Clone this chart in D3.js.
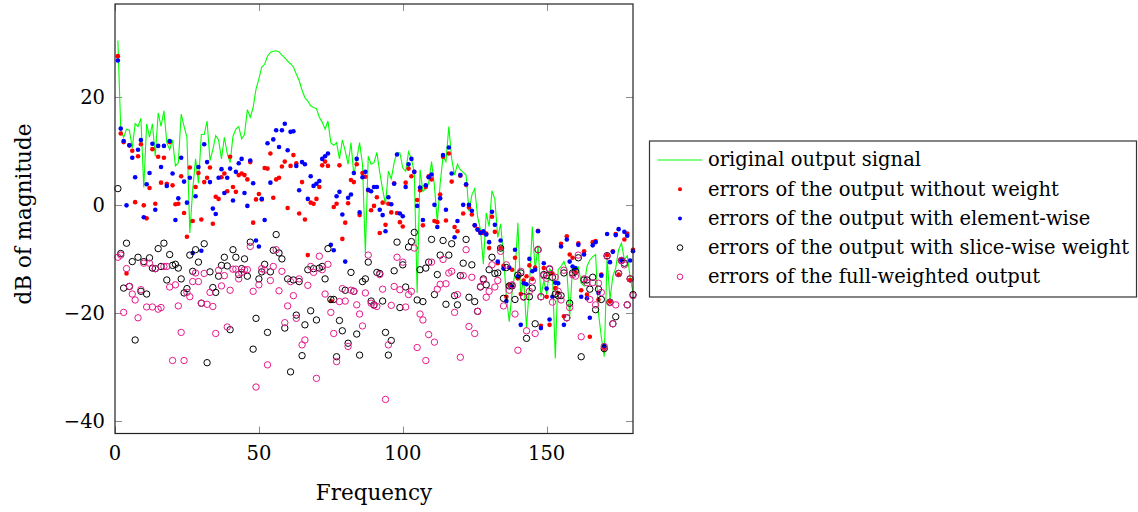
<!DOCTYPE html>
<html>
<head>
<meta charset="utf-8">
<script src="https://cdn.jsdelivr.net/npm/d3@7"></script>
<style>
  body { margin: 0; background: #fff; }
  svg { display: block; }
  text { font-family: "DejaVu Serif", serif; fill: #000; }
</style>
</head>
<body>
<div id="plot"></div>
<script>
// frequency bins 1..180
var freq = d3.range(1, 181);

var original = [
  30.4, 14.0, 12.5, 14.0, 13.8, 10.5, 15.0, 14.5, 16.0, 3.2,
  15.0, 12.5, 15.0, 9.0, 17.0, 14.5, 17.4, 11.5, 10.2, 12.0,
  7.2, 7.8, 16.8, 14.5, 12.5, -5.2, 2.8, 8.5, 4.0, 13.0,
  13.0, 15.5, 8.2, 10.2, 12.8, 12.0, 8.5, 12.5, 9.5, 7.8,
  12.7, 14.0, 14.5, 12.2, 13.0, 17.6, 16.2, 18.0, 21.4, 23.3,
  25.5, 26.0, 27.5, 28.2, 28.4, 28.5, 28.3, 27.7, 27.2, 26.6,
  26.1, 25.5, 24.2, 23.0, 21.2, 19.8, 19.2, 18.3, 18.0, 17.8,
  16.2, 15.3, 14.0, 15.5, 11.5, 11.0, 11.5, 8.5, 12.0, 10.0,
  7.5, 11.5, 5.5, 8.5, 11.5, 7.5, -8.9, 9.0, 7.5, 7.8,
  9.7, 6.0, 2.8, 0.1, 6.2, 4.8, 7.8, 9.7, 9.6, 6.8,
  6.2, 9.8, 8.5, 6.0, -16.3, 6.5, 2.5, 3.0, 4.0, 8.0,
  3.5, -3.3, 4.0, 9.0, 8.0, 14.5, 8.5, 5.5, 7.5, 6.5,
  6.0, 5.5, -1.2, 1.8, 3.0, -2.2, -4.6, -11.0, -1.5, -4.0,
  2.6, 1.0, -6.0, -3.5, -9.5, -17.0, -21.6, -16.0, -12.5, -3.3,
  -17.0, -13.5, -22.8, -15.0, -4.0, -12.0, -7.5, -17.0, -14.0, -16.5,
  -11.8, -12.5, -28.4, -12.0, -11.4, -10.5, -12.0, -20.7, -11.4, -13.2,
  -11.4, -14.5, -15.0, -11.4, -10.2, -9.6, -9.2, -20.0, -24.5, -28.1,
  -9.8, -17.5, -13.2, -11.7, -8.3, -7.1, -10.2, -9.4, -13.3, -16.3
];

var noWeight = [
  27.5, 13.2, 11.6, -12.7, 11.0, 10.0, 0.5, 9.0, 11.2, -0.1,
  -2.5, 3.1, 10.3, 0.2, 8.9, 4.1, 8.7, 3.9, 11.6, 3.6,
  0.1, 0.2, 5.3, -1.5, -5.9, 6.9, -3.0, 3.3, 5.9, -2.7,
  4.2, 5.0, 6.9, -3.5, 1.5, 1.1, 5.1, 5.8, 2.5, 8.9,
  3.3, 2.4, 5.5, 5.8, 5.5, 4.7, 7.9, -3.3, 1.0, 2.0,
  1.0, 6.8, 6.7, 9.5, 1.3, 4.7, 5.0, 7.1, 8.0, -0.6,
  7.2, 9.2, 7.7, -1.6, 4.2, -2.7, -9.3, 0.4, 0.2, 1.1,
  3.3, 7.3, 8.0, 7.2, -17.8, -0.4, 0.2, 7.3, -6.3, -3.3,
  0.3, 4.6, 4.2, 7.5, -1.9, 5.9, 5.2, 2.7, -1.0, -0.2,
  1.4, -5.2, 0.4, -3.7, 0.2, -1.4, 4.0, -1.5, -3.2, -4.0,
  4.1, 6.7, 5.3, 6.1, 0.9, 2.7, -3.8, 3.3, 5.3, 4.7,
  -3.0, -3.2, 1.9, 8.9, -2.9, 9.5, 4.3, -4.1, -4.9, 5.4,
  -1.6, 3.7, -0.5, -1.8, -3.8, -4.5, -5.1, -5.2, -5.3, -8.0,
  -2.2, -5.0, -10.8, -8.0, -11.3, -17.0, -14.8, -12.0, -9.8, -13.6,
  -16.5, -14.0, -13.2, -11.2, -13.7, -11.6, -4.8, -22.4, -11.7, -17.0,
  -22.2, -12.7, -15.4, -16.3, -7.2, -20.6, -5.8, -9.2, -9.8, -12.5,
  -7.1, -15.8, -8.6, -16.6, -24.4, -6.9, -6.7, -17.5, -12.9, -26.6,
  -9.3, -17.9, -8.6, -5.4, -12.9, -10.2, -6.4, -5.3, -13.9, -8.3
];

var elementWise = [
  26.7, 14.1, 11.8, -0.1, 11.0, 8.7, 5.1, 10.2, 12.0, -2.3,
  3.8, 5.9, 11.3, -0.9, 10.9, 7.0, 10.9, 3.5, 11.8, 5.8,
  -2.8, 1.2, 8.7, 4.3, 0.4, 5.0, -8.9, 1.6, 7.0, -8.5,
  11.2, 7.9, 4.2, -0.7, -1.7, 5.0, 6.6, 2.2, 5.0, 6.7,
  0.8, 6.1, 7.7, 8.5, 2.2, -0.2, 8.2, 4.0, -6.6, -7.7,
  1.1, -2.8, 11.4, 4.1, 12.1, 13.8, 10.7, 13.8, 15.0, 10.1,
  13.5, 13.6, 7.2, 2.7, 7.9, 7.5, 1.1, 5.3, 3.5, 3.9,
  4.4, 8.5, 9.0, 9.5, -7.4, -8.4, 1.6, 2.4, -1.8, -10.5,
  1.3, 1.9, 5.9, 8.5, -1.4, 5.1, 6.1, 2.8, 2.5, 3.3,
  3.3, -0.9, -1.9, -4.9, 1.4, 0.1, 3.9, 9.3, -1.6, -2.1,
  3.3, 7.5, 8.5, 6.1, -0.2, 3.2, -2.8, 3.6, 5.1, 5.6,
  0.0, -4.1, 1.2, 9.2, -0.9, 10.6, 5.8, -6.0, -3.0, 5.5,
  0.0, 3.8, 0.0, -1.1, -3.8, -4.6, -5.2, -4.9, -5.5, -6.9,
  -1.3, -3.7, -10.5, -6.6, -11.8, -17.8, -11.6, -15.1, -8.3, -13.2,
  -22.2, -14.5, -14.7, -10.0, -12.3, -12.0, -4.9, -22.8, -10.8, -15.5,
  -21.2, -17.0, -14.4, -14.5, -7.7, -22.2, -6.4, -10.5, -11.4, -11.7,
  -7.4, -17.0, -9.2, -17.3, -20.9, -7.5, -6.9, -16.3, -13.1, -26.1,
  -5.4, -10.6, -8.7, -5.6, -4.5, -10.3, -5.0, -5.7, -10.3, -8.6
];

var sliceWise = [
  3.0, -9.0, -15.4, -7.1, -15.1, -10.5, -25.0, -9.7, -16.0, -10.5,
  -16.5, -9.8, -11.7, -11.8, -8.1, -11.4, -7.1, -13.9, -9.2, -11.2,
  -11.0, -11.7, -13.7, -16.3, -15.5, -9.3, -12.3, -8.3, -10.6, -18.2,
  -7.2, -29.2, -12.4, -15.3, -16.2, -13.2, -11.2, -9.7, -11.3, -23.1,
  -8.3, -9.7, -12.9, -11.8, -10.0, -13.2, -6.9, -26.7, -21.0, -13.7,
  -12.4, -11.0, -23.6, -12.4, -8.4, -5.5, -8.9, -10.0, -22.8, -13.7,
  -30.9, -13.9, -20.4, -14.2, -27.9, -22.2, -12.0, -19.6, -11.8, -21.3,
  -11.7, -11.4, -13.7, -8.1, -17.5, -17.5, -28.1, -21.4, -23.3, -15.8,
  -25.6, -12.5, -16.0, -23.9, -27.8, -14.2, -13.7, -10.6, -17.8, -18.5,
  -12.5, -12.7, -17.8, -23.6, -27.8, -25.1, -12.2, -6.9, -19.0, -11.1,
  -15.2, -7.8, -6.8, -5.1, -17.6, -12.0, -17.9, -11.7, -10.6, -6.4,
  -16.6, -12.9, -9.3, -6.6, -18.4, -9.3, -7.2, -16.8, -18.5, -13.1,
  -10.8, -6.4, -17.1, -11.1, -17.9, -19.7, -15.2, -13.7, -14.8, -12.0,
  -9.7, -12.7, -12.6, -8.0, -17.3, -11.6, -15.0, -15.0, -17.5, -13.0,
  -12.6, -17.0, -24.7, -17.0, -15.4, -22.0, -8.3, -17.0, -12.9, -13.1,
  -11.9, -13.4, -16.5, -16.8, -16.8, -12.6, -20.9, -18.2, -12.6, -12.3,
  -9.8, -28.1, -13.9, -13.9, -15.6, -13.4, -19.4, -15.6, -17.5, -26.6,
  -9.4, -18.0, -22.0, -20.7, -12.7, -10.3, -10.8, -18.5, -13.7, -16.6
];

var fullWeighted = [
  -9.7, -9.3, -19.9, -11.8, -15.1, -16.5, -17.6, -20.9, -15.7, -10.8,
  -18.9, -10.8, -18.9, -11.8, -19.3, -19.0, -11.4, -11.4, -15.2, -28.8,
  -14.8, -18.7, -23.6, -28.8, -16.2, -17.0, -14.2, -12.6, -14.2, -18.2,
  -12.7, -18.4, -16.2, -18.8, -23.8, -12.1, -15.0, -13.1, -22.6, -15.8,
  -11.9, -11.9, -13.7, -12.5, -12.0, -12.0, -7.7, -16.0, -33.7, -14.8,
  -11.8, -12.1, -29.6, -14.0, -11.4, -8.3, -15.9, -12.3, -21.8, -18.7,
  -14.2, -16.8, -21.0, -13.7, -25.9, -25.0, -14.9, -11.4, -12.5, -32.1,
  -9.5, -12.0, -16.5, -11.0, -19.9, -23.8, -29.0, -17.9, -15.5, -17.8,
  -26.2, -15.8, -16.0, -18.5, -20.2, -22.4, -16.3, -9.3, -18.2, -18.6,
  -18.8, -12.9, -15.6, -36.0, -25.9, -18.6, -15.1, -9.7, -15.7, -10.6,
  -18.9, -16.6, -16.0, -8.0, -26.4, -20.2, -21.3, -28.8, -24.0, -10.6,
  -25.4, -15.6, -14.7, -10.1, -14.6, -12.6, -12.3, -19.9, -16.6, -28.2,
  -13.1, -8.3, -22.5, -13.4, -23.8, -19.7, -15.1, -13.9, -17.1, -16.0,
  -11.1, -15.2, -14.0, -8.6, -18.7, -11.1, -15.8, -14.8, -20.2, -26.9,
  -12.3, -17.1, -23.3, -16.0, -14.1, -23.8, -8.3, -17.0, -13.1, -13.6,
  -11.8, -18.0, -13.4, -16.0, -17.6, -12.1, -20.9, -19.0, -12.9, -13.2,
  -9.3, -24.4, -13.7, -14.4, -17.5, -14.4, -18.5, -14.5, -16.2, -26.2,
  -9.5, -18.1, -22.0, -18.5, -12.7, -10.3, -11.1, -18.5, -13.7, -16.8
];

var xTicks = [0, 50, 100, 150];
var yTicks = [-40, -20, 0, 20];

var legendLabels = [
  "original output signal",
  "errors of the output without weight",
  "errors of the output with element-wise",
  "errors of the output with slice-wise weight",
  "errors of the full-weighted output"
];

function drawChart(){
    var width = 1138;
    var height = 512;
    var left = 115, right = 633, top = 4, bottom = 433.5;
    var pink = "#e6198c";

    var svg = d3.select("#plot").append("svg")
                .attr("width", width)
                .attr("height", height);

    var xScale = d3.scaleLinear()
                   .domain([0, 180])
                   .range([left, right]);

    var yScale = d3.scaleLinear()
                   .domain([-42.3, 37.15])
                   .range([bottom, top]);

    var minus = function(v){ return v < 0 ? "\u2212" + Math.abs(v) : "" + v; };

    // ticks, inward on all four sides
    var tickLen = 7;
    var ticks = svg.append("g").attr("stroke", "#8c8c8c").attr("stroke-width", 1);
    xTicks.forEach(function(t){
        var x = Math.round(xScale(t)) + 0.5;
        ticks.append("line").attr("x1", x).attr("x2", x).attr("y1", bottom).attr("y2", bottom - tickLen);
        ticks.append("line").attr("x1", x).attr("x2", x).attr("y1", top).attr("y2", top + tickLen);
    });
    yTicks.forEach(function(t){
        var y = Math.round(yScale(t)) + 0.5;
        ticks.append("line").attr("x1", left).attr("x2", left + tickLen).attr("y1", y).attr("y2", y);
        ticks.append("line").attr("x1", right).attr("x2", right - tickLen).attr("y1", y).attr("y2", y);
    });

    // tick labels
    svg.append("g").selectAll("text")
        .data(xTicks).enter().append("text")
        .attr("x", function(d){ return xScale(d); })
        .attr("y", 460)
        .attr("text-anchor", "middle")
        .style("font-size", "19.5px")
        .text(function(d){ return minus(d); });

    svg.append("g").selectAll("text")
        .data(yTicks).enter().append("text")
        .attr("x", 105)
        .attr("y", function(d){ return yScale(d); })
        .attr("dy", "0.36em")
        .attr("text-anchor", "end")
        .style("font-size", "19.5px")
        .text(function(d){ return minus(d); });

    // axis titles
    svg.append("text")
        .attr("x", (left + right) / 2)
        .attr("y", 500)
        .attr("text-anchor", "middle")
        .style("font-size", "21.5px")
        .text("Frequency");

    svg.append("text")
        .attr("transform", "translate(31," + 214 + ") rotate(-90)")
        .attr("text-anchor", "middle")
        .style("font-size", "21.5px")
        .text("dB of magnitude");

    // data
    var plot = svg.append("g");

    var line = d3.line()
                 .x(function(d, i){ return xScale(freq[i]); })
                 .y(function(d){ return yScale(d); });

    plot.append("path")
        .datum(original)
        .attr("d", line)
        .attr("fill", "none")
        .attr("stroke", "#00ff00")
        .attr("stroke-width", 1.1);

    var dots = function(values, color){
        plot.append("g").selectAll("circle")
            .data(values).enter().append("circle")
            .attr("cx", function(d, i){ return xScale(freq[i]); })
            .attr("cy", function(d){ return yScale(d); })
            .attr("r", 2.3)
            .attr("fill", color);
    };
    var rings = function(values, color){
        plot.append("g").selectAll("circle")
            .data(values).enter().append("circle")
            .attr("cx", function(d, i){ return xScale(freq[i]); })
            .attr("cy", function(d){ return yScale(d); })
            .attr("r", 3.2)
            .attr("fill", "none")
            .attr("stroke", color)
            .attr("stroke-width", 1);
    };

    dots(noWeight, "#ff0000");
    dots(elementWise, "#0000ff");
    rings(sliceWise, "#000000");
    rings(fullWeighted, pink);

    // frame
    svg.append("rect")
        .attr("x", left).attr("y", top)
        .attr("width", right - left).attr("height", bottom - top)
        .attr("fill", "none")
        .attr("stroke", "#222")
        .attr("stroke-width", 1.2);

    // legend
    var lg = svg.append("g");
    lg.append("rect")
        .attr("x", 649.5).attr("y", 141)
        .attr("width", 487).attr("height", 156)
        .attr("fill", "#fff")
        .attr("stroke", "#333")
        .attr("stroke-width", 1.2);

    var rowY = function(i){ return 160 + i * 29.2; };

    lg.append("line")
        .attr("x1", 658).attr("x2", 702)
        .attr("y1", rowY(0)).attr("y2", rowY(0))
        .attr("stroke", "#00ff00").attr("stroke-width", 1.1);
    lg.append("circle").attr("cx", 680).attr("cy", rowY(1)).attr("r", 2).attr("fill", "#ff0000");
    lg.append("circle").attr("cx", 680).attr("cy", rowY(2)).attr("r", 2).attr("fill", "#0000ff");
    lg.append("circle").attr("cx", 680).attr("cy", rowY(3)).attr("r", 2.8)
        .attr("fill", "none").attr("stroke", "#000").attr("stroke-width", 1);
    lg.append("circle").attr("cx", 680).attr("cy", rowY(4)).attr("r", 2.8)
        .attr("fill", "none").attr("stroke", pink).attr("stroke-width", 1);

    lg.selectAll(".lbl")
        .data(legendLabels).enter().append("text")
        .attr("class", "lbl")
        .attr("x", 708)
        .attr("y", function(d, i){ return rowY(i); })
        .attr("dy", "0.33em")
        .style("font-size", "19.5px")
        .text(function(d){ return d; });
}

drawChart();
</script>
</body>
</html>
